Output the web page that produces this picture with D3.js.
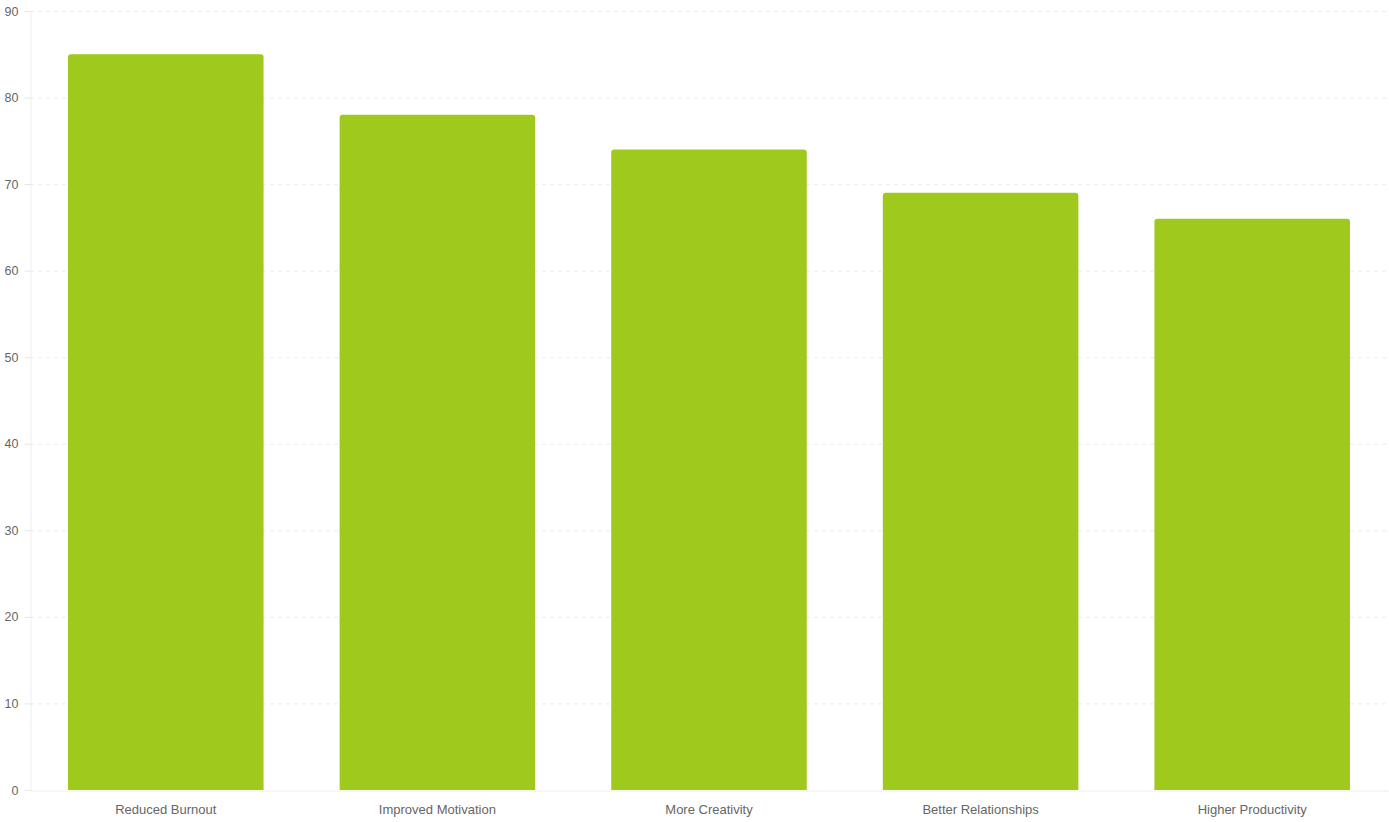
<!DOCTYPE html>
<html><head><meta charset="utf-8">
<script src="https://cdn.jsdelivr.net/npm/d3@7"></script>
<style>body{margin:0;background:#fff}svg{display:block}text{font-family:"Liberation Sans",Arial,sans-serif}</style>
</head><body><svg id="c" width="1389" height="822"></svg>
<script>
const categories = ["Reduced Burnout","Improved Motivation","More Creativity","Better Relationships","Higher Productivity"];
const values = [85,78,74,69,66];
const yTicks = [0,10,20,30,40,50,60,70,80,90];

const svg = d3.select("#c");
const m = {l:30, r:1, t:11, b:32};
const W = 1389, H = 822;
const x = d3.scaleBand().domain(categories).range([m.l, W-m.r]).paddingInner(0.28).paddingOuter(0.14);
const y = d3.scaleLinear().domain([0,90]).range([H-m.b, m.t]);

// grid
svg.append("g").selectAll("line").data(yTicks.filter(d=>d>0)).join("line")
  .attr("x1", m.l).attr("x2", W-m.r).attr("y1", d=>y(d)+0.5).attr("y2", d=>y(d)+0.5)
  .attr("stroke","#ececec").attr("stroke-dasharray","4,4");

// y axis
const ya = svg.append("g").attr("transform",`translate(${m.l+0.5},0)`)
  .call(d3.axisLeft(y).tickValues(yTicks).tickSize(6).tickPadding(6));
ya.select(".domain").attr("stroke","#eeeeee");
ya.selectAll(".tick line").attr("stroke","#e6e6e6");
ya.selectAll(".tick text").attr("fill","#666").style("font-size","12.5px");

// bars with rounded top
const r = 3;
svg.append("g").selectAll("path").data(values).join("path")
  .attr("fill","#9fc91c")
  .attr("d",(d,i)=>{
    const x0 = x(categories[i]), w = x.bandwidth(), y0 = y(d), y1 = y(0);
    return `M${x0},${y1}V${y0+r}Q${x0},${y0} ${x0+r},${y0}H${x0+w-r}Q${x0+w},${y0} ${x0+w},${y0+r}V${y1}Z`;
  });

// x axis
const xa = svg.append("g").attr("transform",`translate(0,${y(0)+0.5})`)
  .call(d3.axisBottom(x).tickSize(0).tickPadding(14));
xa.select(".domain").attr("stroke","#eeeeee");
xa.selectAll(".tick text").attr("fill","#666").style("font-size","13px");
</script></body></html>
